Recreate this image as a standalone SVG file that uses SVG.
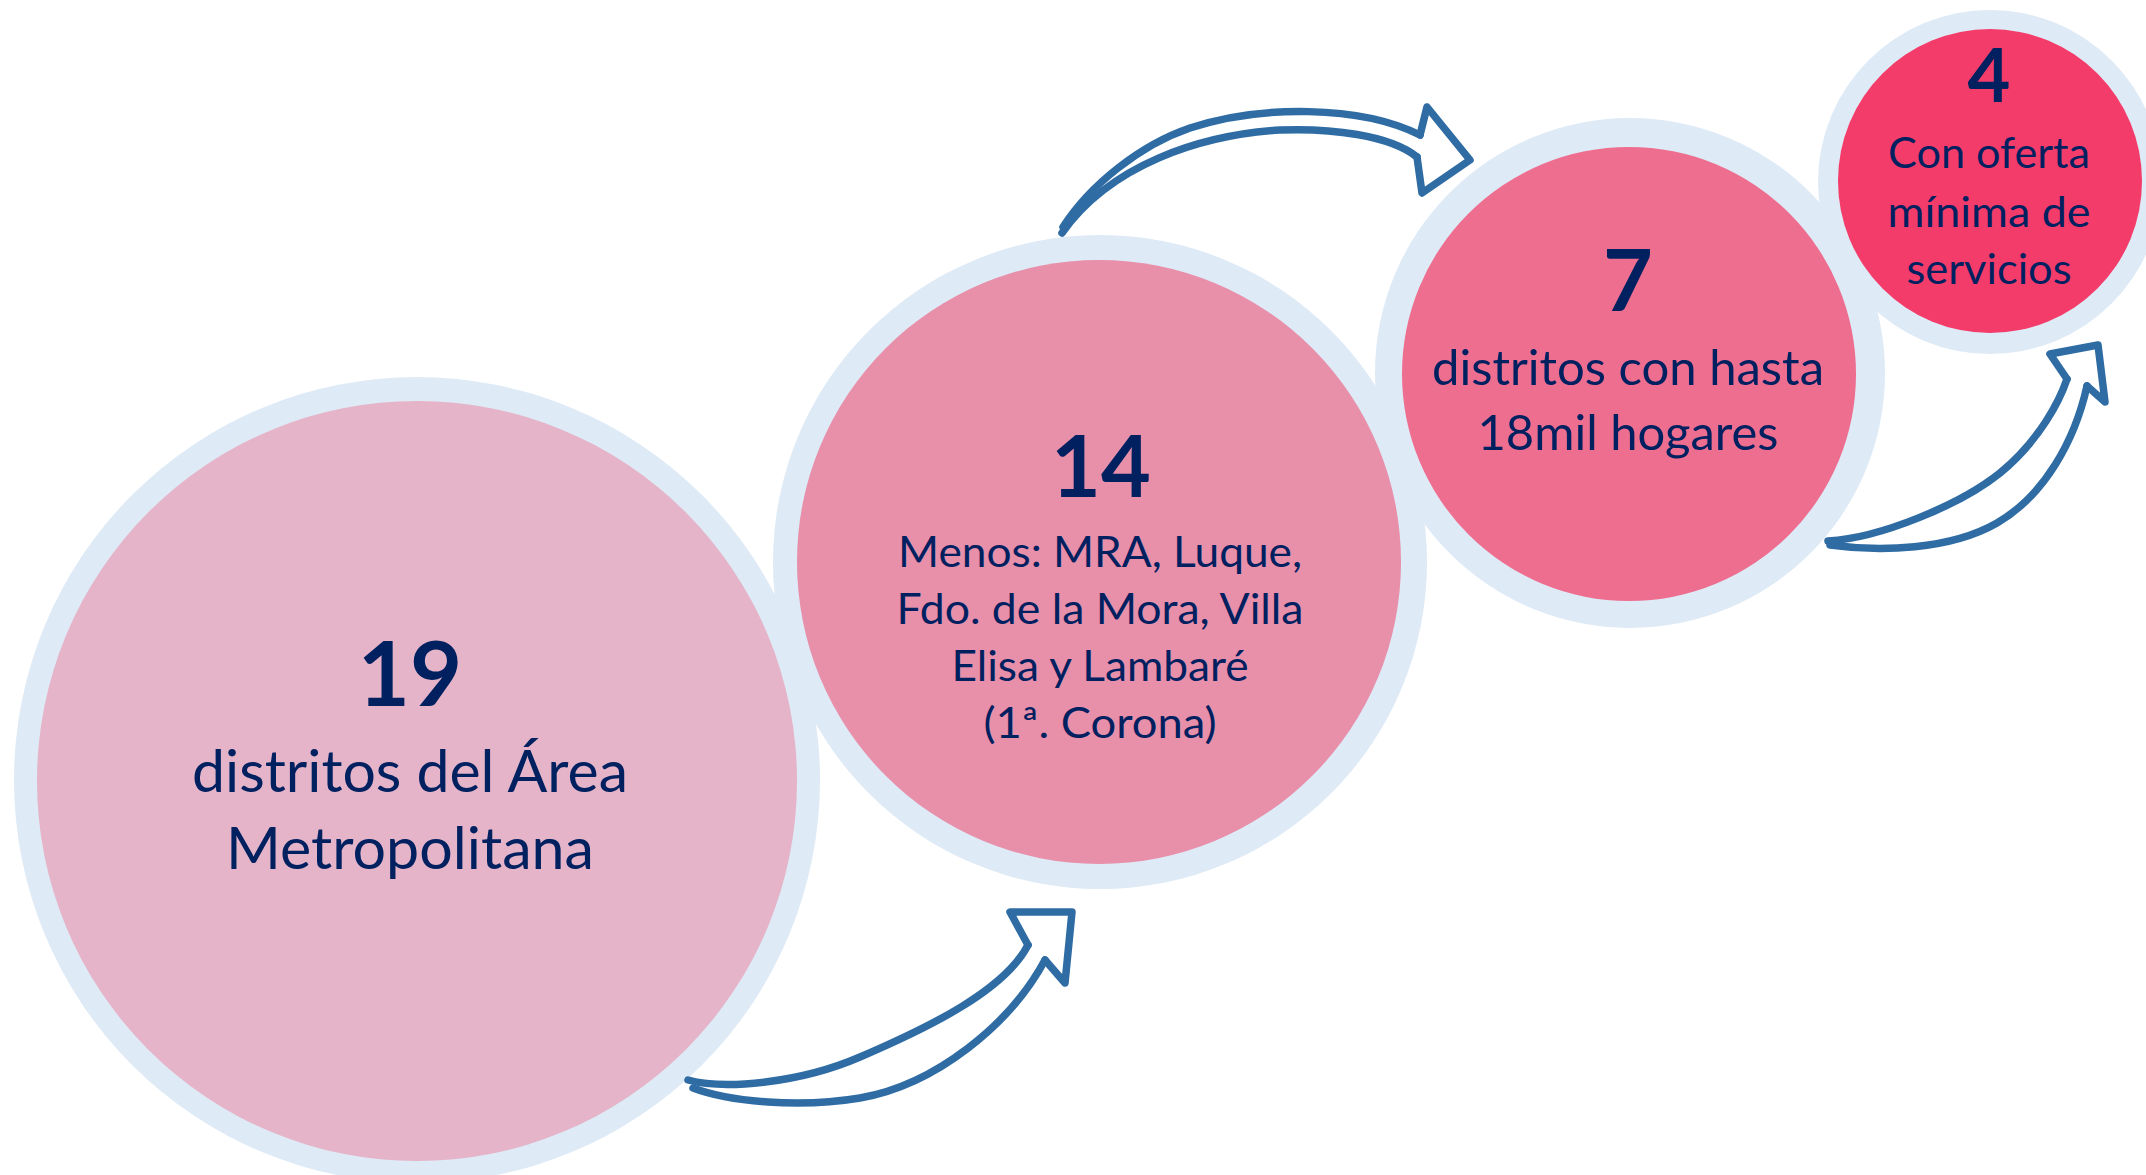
<svg xmlns="http://www.w3.org/2000/svg" width="2146" height="1175" viewBox="0 0 2146 1175">
<style>
.ring{fill:#DEEAF6}
.t{font-family:Lato,"Open Sans","Liberation Sans",sans-serif;fill:#002060;text-anchor:middle}
.n{font-weight:bold}
.arr{fill:none;stroke:#2F6CA4;stroke-width:7.5;stroke-linecap:round;stroke-linejoin:round}
</style>
<rect width="2146" height="1175" fill="#FFFFFF"/>
<g id="node-19">
<circle class="ring" cx="417" cy="780" r="403"/>
<circle cx="417" cy="781" r="380" fill="#E5B4C8"/>
<text class="t n" x="410" y="706" font-size="90">19</text>
<text class="t" x="410" y="792" font-size="58" textLength="436" lengthAdjust="spacingAndGlyphs">distritos del Área</text>
<text class="t" x="410" y="869" font-size="58" textLength="368" lengthAdjust="spacingAndGlyphs">Metropolitana</text>
</g>
<g id="node-14">
<circle class="ring" cx="1100" cy="562" r="327"/>
<circle cx="1099" cy="562" r="302" fill="#E88FAA"/>
<text class="t n" x="1101" y="497" font-size="86">14</text>
<text class="t" x="1100" y="567" font-size="43" textLength="404" lengthAdjust="spacingAndGlyphs">Menos: MRA, Luque,</text>
<text class="t" x="1100" y="624" font-size="43" textLength="407" lengthAdjust="spacingAndGlyphs">Fdo. de la Mora, Villa</text>
<text class="t" x="1100" y="681" font-size="43" textLength="297" lengthAdjust="spacingAndGlyphs">Elisa y Lambaré</text>
<text class="t" x="1100" y="738" font-size="43" textLength="233" lengthAdjust="spacingAndGlyphs">(1ª. Corona)</text>
</g>
<g id="node-7">
<circle class="ring" cx="1630" cy="373" r="255"/>
<circle cx="1629" cy="374" r="227" fill="#EE6E90"/>
<text class="t n" x="1628" y="311" font-size="86">7</text>
<text class="t" x="1628" y="385" font-size="48" textLength="392" lengthAdjust="spacingAndGlyphs">distritos con hasta</text>
<text class="t" x="1628" y="450" font-size="48" textLength="301" lengthAdjust="spacingAndGlyphs">18mil hogares</text>
</g>
<g id="node-4">
<circle class="ring" cx="1990" cy="182" r="172"/>
<circle cx="1990" cy="181" r="152" fill="#F43C6A"/>
<text class="t n" x="1989" y="102" font-size="74">4</text>
<text class="t" x="1989" y="168" font-size="43" textLength="202" lengthAdjust="spacingAndGlyphs">Con oferta</text>
<text class="t" x="1989" y="227" font-size="43" textLength="203" lengthAdjust="spacingAndGlyphs">mínima de</text>
<text class="t" x="1989" y="284" font-size="43" textLength="165" lengthAdjust="spacingAndGlyphs">servicios</text>
</g>
<g id="connectors">
<g id="arrow-19-14">
<path class="arr" d="M688,1080 C725,1090 800,1083 860,1057 C930,1027 1005,990 1028,945"/>
<path class="arr" d="M1028,945 L1010,912 L1072,912 L1065,983 L1045,960"/>
<path class="arr" d="M1045,960 C1010,1025 935,1085 860,1098 C800,1108 730,1102 693,1088"/>
</g>
<g id="arrow-14-7">
<path class="arr" d="M1063,227 C1090,185 1140,145 1190,128 C1260,105 1360,105 1420,135"/>
<path class="arr" d="M1420,135 L1427,107 L1470,160 L1422,193 L1417,157"/>
<path class="arr" d="M1417,157 C1390,135 1330,128 1280,130 C1200,135 1110,165 1062,233"/>
</g>
<g id="arrow-7-4">
<path class="arr" d="M1828,541 C1880,538 1960,505 2000,473 C2040,440 2060,400 2067,379"/>
<path class="arr" d="M2067,379 L2050,354 L2098,345 L2105,402 L2087,386"/>
<path class="arr" d="M2087,386 C2075,440 2045,495 1997,523 C1950,550 1880,552 1830,545"/>
</g>
</g>
</svg>
